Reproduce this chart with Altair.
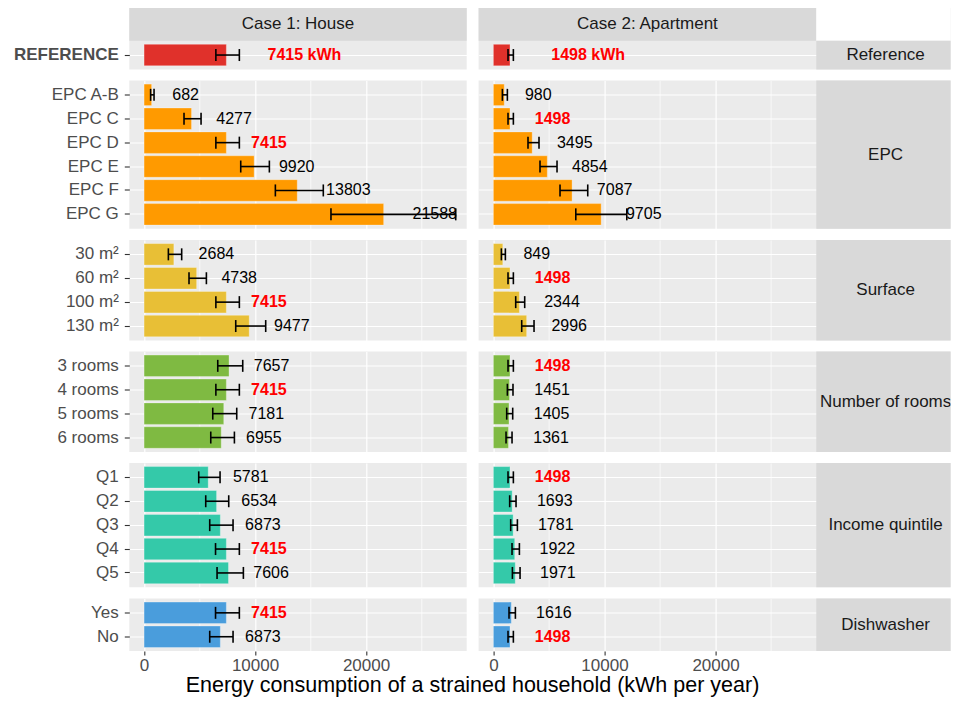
import altair as alt
import pandas as pd

# ---------------- data ----------------
groups = ["Reference", "EPC", "Surface", "Number of rooms", "Income quintile", "Dishwasher"]
cases = ["Case 1: House", "Case 2: Apartment"]
categories = [
    ["REFERENCE"],
    ["EPC A-B", "EPC C", "EPC D", "EPC E", "EPC F", "EPC G"],
    ["30 m²", "60 m²", "100 m²", "130 m²"],
    ["3 rooms", "4 rooms", "5 rooms", "6 rooms"],
    ["Q1", "Q2", "Q3", "Q4", "Q5"],
    ["Yes", "No"],
]
house_value = [[7415], [682, 4277, 7415, 9920, 13803, 21588], [2684, 4738, 7415, 9477],
               [7657, 7415, 7181, 6955], [5781, 6534, 6873, 7415, 7606], [7415, 6873]]
house_low = [[6470], [590, 3600, 6470, 8710, 11830, 16840], [2190, 4050, 6470, 8260],
             [6640, 6470, 6190, 6010], [4925, 5556, 5916, 6440, 6577], [6440, 5916]]
house_high = [[8586], [900, 5135, 8586, 11290, 16150, 28080], [3390, 5616, 8586, 10960],
              [8890, 8586, 8350, 8140], [6847, 7628, 8018, 8586, 8949], [8586, 8018]]
apt_value = [[1498], [980, 1498, 3495, 4854, 7087, 9705], [849, 1498, 2344, 2996],
             [1498, 1451, 1405, 1361], [1498, 1693, 1781, 1922, 1971], [1616, 1498]]
apt_low = [[1318], [810, 1318, 3117, 4198, 6000, 7420], [720, 1318, 2010, 2550],
           [1318, 1260, 1200, 1140], [1318, 1468, 1559, 1679, 1712], [1408, 1318]]
apt_high = [[1800], [1260, 1800, 4108, 5730, 8495, 12010], [1080, 1800, 2820, 3660],
            [1800, 1766, 1740, 1680], [1800, 2040, 2162, 2342, 2402], [1982, 1800]]
reference_value = [7415, 1498]
x_ticks = [0, 5000, 10000, 15000, 20000, 25000]
x_domain = [-1330, 29070]
x_title = "Energy consumption of a strained household (kWh per year)"

# ---------------- style ----------------
bar_colors = ["#E0312B", "#FF9A00", "#E8BF36", "#7FBA42", "#34C9A9", "#4A9DDC"]
FONT = "Liberation Sans"
STEP = 23.9
PW = [337.4, 337.7]
SPACER = 110
COLGAP = 11.3
ROWGAP = 10.5
SW = 942 - (SPACER + COLGAP + PW[0] + COLGAP + PW[1])
STRIP_TX = 69.3
TOP = 32.7
MAJOR = "datum.value % 10000 === 0"

one = pd.DataFrame({"k": [0]})


def rect(x0, x1, y0, y1, color):
    return alt.Chart(one).mark_rect(color=color, opacity=1).encode(
        x=alt.value(x0), x2=alt.value(x1), y=alt.value(y0), y2=alt.value(y1))


def label(text, x, y, clip=False):
    return alt.Chart(one).mark_text(font=FONT, fontSize=17, color="#1A1A1A", align="center",
                                    baseline="middle", clip=clip).encode(
        x=alt.value(x), y=alt.value(y), text=alt.value(text))


def spacer(w, h=1):
    return alt.Chart(one).mark_rect(opacity=0).encode(
        x=alt.value(0), x2=alt.value(w), y=alt.value(0), y2=alt.value(h)
    ).properties(width=w, height=h)


def panel(gi, ci):
    cats = categories[gi]
    vals = (house_value if ci == 0 else apt_value)[gi]
    lows = (house_low if ci == 0 else apt_low)[gi]
    highs = (house_high if ci == 0 else apt_high)[gi]
    ref = reference_value[ci]
    df = pd.DataFrame({"cat": cats, "value": vals, "low": lows, "high": highs})
    df["zero"] = 0
    df["label"] = [f"{v} kWh" if gi == 0 else str(v) for v in vals]
    df["is_ref"] = [v == ref for v in vals]

    n = len(cats)
    ph = STEP * (n + 0.2)
    top = TOP if gi == 0 else 0
    pw = PW[ci]
    total_w = pw + (SW if ci == 1 else 0)
    total_h = ph + top
    last = gi == len(groups) - 1

    xscale = alt.Scale(domain=x_domain, nice=False, zero=False, range=[0, pw])
    yscale = alt.Scale(domain=cats, paddingInner=0.1, paddingOuter=0.15, range=[top, top + ph])
    xaxis = alt.Axis(title=None, values=x_ticks, domain=False, grid=True, gridColor="white",
                     gridWidth={"condition": {"test": MAJOR, "value": 1.2}, "value": 0.7},
                     labels=last, ticks=last, format="d",
                     labelExpr=f"{MAJOR} ? datum.label : ''",
                     tickOpacity={"condition": {"test": MAJOR, "value": 1}, "value": 0},
                     tickColor="#333333", tickWidth=1.1, tickSize=4, labelPadding=2.5,
                     labelFont=FONT, labelFontSize=17, labelColor="#4D4D4D")
    yaxis = alt.Axis(title=None, domain=False, grid=True, gridColor="white", gridWidth=1.2,
                     labels=(ci == 0), ticks=(ci == 0), tickColor="#333333", tickWidth=1.1,
                     tickSize=5, labelPadding=6, labelFont=FONT, labelFontSize=17,
                     labelColor="#4D4D4D", labelFontWeight="bold" if gi == 0 else "normal")

    def X(f):
        return alt.X(f"{f}:Q", scale=xscale, axis=xaxis)

    Y = alt.Y("cat:N", scale=yscale, sort=cats, axis=yaxis)
    base = alt.Chart(df)
    bars = base.mark_bar(color=bar_colors[gi], opacity=1, stroke="white", strokeOpacity=0.3,
                         strokeWidth=1).encode(x=X("value"), x2=alt.X2("zero"), y=Y)
    rule = base.mark_rule(color="black", strokeWidth=1.6).encode(x=X("low"), x2=alt.X2("high"), y=Y)
    cap_lo = base.mark_tick(color="black", size=12, thickness=1.6, opacity=1).encode(x=X("low"), y=Y)
    cap_hi = base.mark_tick(color="black", size=12, thickness=1.6, opacity=1).encode(x=X("high"), y=Y)
    txt = base.transform_calculate(lx="datum.value + 750 + 370 * length(datum.label)")
    txt_norm = txt.transform_filter("!datum.is_ref").mark_text(
        align="left", baseline="middle", font=FONT, fontSize=16, color="black"
    ).encode(x=X("lx"), y=Y, text="label:N")
    txt_ref = txt.transform_filter("datum.is_ref").mark_text(
        align="left", baseline="middle", font=FONT, fontSize=16, color="#FF0000", fontWeight="bold"
    ).encode(x=X("lx"), y=Y, text="label:N")

    layers = [bars, rule, cap_lo, cap_hi, txt_norm, txt_ref]
    if gi == 0:
        layers.append(rect(0, pw, 0, TOP, "#D9D9D9"))
        layers.append(label(cases[ci], pw / 2, TOP / 2))
        if ci == 1:
            layers.append(rect(pw, total_w, 0, TOP, "white"))
    if ci == 1:
        layers.append(rect(pw, total_w, top, top + ph, "#D9D9D9"))
        layers.append(label(groups[gi], pw + STRIP_TX, top + ph / 2, clip=True))

    return alt.layer(*layers).properties(
        width=total_w, height=total_h,
        view=alt.ViewBackground(fill="#EBEBEB", stroke=None))


cells = []
for gi in range(len(groups)):
    cells += [spacer(SPACER), panel(gi, 0), panel(gi, 1)]

title_h = 30.3
title_cell = alt.Chart(one).mark_text(
    font=FONT, fontSize=21.5, color="black", align="center", baseline="alphabetic"
).encode(x=alt.value((PW[0] + COLGAP + PW[1]) / 2), y=alt.value(title_h),
         text=alt.value(x_title)).properties(width=PW[0], height=title_h)
cells += [spacer(SPACER), title_cell, spacer(10)]

chart = alt.concat(
    *cells, columns=3, spacing={"row": ROWGAP, "column": COLGAP}, bounds="flush"
).properties(padding=0).configure_view(stroke=None)

chart.save("out.html", embed_options={"renderer": "svg", "actions": False})
